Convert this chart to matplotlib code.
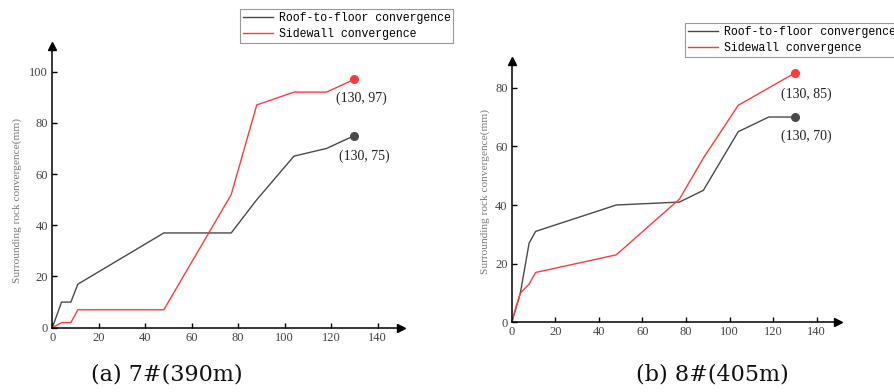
import matplotlib.pyplot as plt

# Datos (a) 7#(390m)
x_a_roof = [0, 4, 8, 11, 48, 77, 88, 104, 118, 130]
y_a_roof = [0, 10, 10, 17, 37, 37, 50, 67, 70, 75]
x_a_side = [0, 4, 8, 11, 48, 77, 88, 104, 118, 130]
y_a_side = [0, 2, 2, 7, 7, 52, 87, 92, 92, 97]

# Datos (b) 8#(405m)
x_b_roof = [0, 4, 8, 11, 48, 77, 88, 104, 118, 130]
y_b_roof = [0, 10, 27, 31, 40, 41, 45, 65, 70, 70]
x_b_side = [0, 4, 8, 11, 48, 77, 88, 104, 130]
y_b_side = [0, 10, 13, 17, 23, 42, 56, 74, 85]

xticks = [0, 20, 40, 60, 80, 100, 120, 140]
yticks_a = [0, 20, 40, 60, 80, 100]
yticks_b = [0, 20, 40, 60, 80]

labels = ['Roof-to-floor convergence', 'Sidewall convergence']
captions = ['(a) 7#(390m)', '(b) 8#(405m)']

c_roof = '#4a4a4a'
c_side = '#ff3a3a'

fig = plt.figure(figsize=(8.95, 3.92), dpi=100)
ax1 = fig.add_axes([0.0584, 0.164, 0.3895, 0.7186])
ax2 = fig.add_axes([0.5717, 0.1778, 0.3651, 0.6658])


def style_axis(ax, yticks, ymax):
    ax.set_xlim(0, 150)
    ax.set_ylim(0, ymax)
    ax.set_xticks(xticks)
    ax.set_yticks(yticks)
    for s in ['top', 'right']:
        ax.spines[s].set_visible(False)
    for s in ['left', 'bottom']:
        ax.spines[s].set_linewidth(1.1)
    ax.tick_params(direction='in', length=3.8, width=1.0, colors='black',
                   labelcolor='#444444', labelsize=9, pad=3)
    for lab in ax.get_xticklabels() + ax.get_yticklabels():
        lab.set_family('Liberation Serif')
    # flechas de los ejes
    ax.plot(1, 0, '>k', ms=5.5, transform=ax.get_yaxis_transform(), clip_on=False)
    ax.plot(0, 1, '^k', ms=5.5, transform=ax.get_xaxis_transform(), clip_on=False)
    ax.set_ylabel('Surrounding rock convergence(mm)', family='Liberation Serif',
                  fontsize=8.2, color='#777777', labelpad=6)


def annotate_end(ax, x, y, color, dx, dy):
    ax.plot([x[-1]], [y[-1]], 'o', color=color, ms=5.5)
    ax.annotate('(%d, %d)' % (x[-1], y[-1]), (x[-1], y[-1]), xytext=(dx, dy),
                textcoords='offset points', ha='center', va='center',
                family='Liberation Serif', fontsize=10, color='#222222')


l1, = ax1.plot(x_a_roof, y_a_roof, color=c_roof, lw=1.0)
l2, = ax1.plot(x_a_side, y_a_side, color=c_side, lw=1.0)
annotate_end(ax1, x_a_side, y_a_side, c_side, 5, -13.5)
annotate_end(ax1, x_a_roof, y_a_roof, c_roof, 7, -15)
style_axis(ax1, yticks_a, 110)
ax1.yaxis.set_label_coords(-0.088, 0.45)

r1, = ax2.plot(x_b_roof, y_b_roof, color=c_roof, lw=1.0)
r2, = ax2.plot(x_b_side, y_b_side, color=c_side, lw=1.0)
annotate_end(ax2, x_b_side, y_b_side, c_side, 8, -15)
annotate_end(ax2, x_b_roof, y_b_roof, c_roof, 8, -13.5)
style_axis(ax2, yticks_b, 89)
ax2.yaxis.set_label_coords(-0.065, 0.5)

leg_kw = dict(loc='upper left', bbox_transform=fig.transFigure, frameon=True,
              fancybox=False, edgecolor='#999999', framealpha=1,
              prop={'family': 'Liberation Mono', 'size': 8.3},
              handlelength=2.6, handletextpad=0.5, labelspacing=0.35,
              borderpad=0.25, borderaxespad=0)
leg1 = ax1.legend([l1, l2], labels, bbox_to_anchor=(240 / 895, 1 - 9 / 392), **leg_kw)
leg1.get_frame().set_linewidth(0.8)
leg2 = ax2.legend([r1, r2], labels, bbox_to_anchor=(685 / 895, 1 - 23 / 392), **leg_kw)
leg2.get_frame().set_linewidth(0.8)

fig.text(167 / 895, 1 - 375 / 392, captions[0], ha='center', va='center',
         family='DejaVu Serif', fontsize=16, color='#111111')
fig.text(712 / 895, 1 - 375 / 392, captions[1], ha='center', va='center',
         family='DejaVu Serif', fontsize=16, color='#111111')

plt.savefig('out.png', dpi=100)
